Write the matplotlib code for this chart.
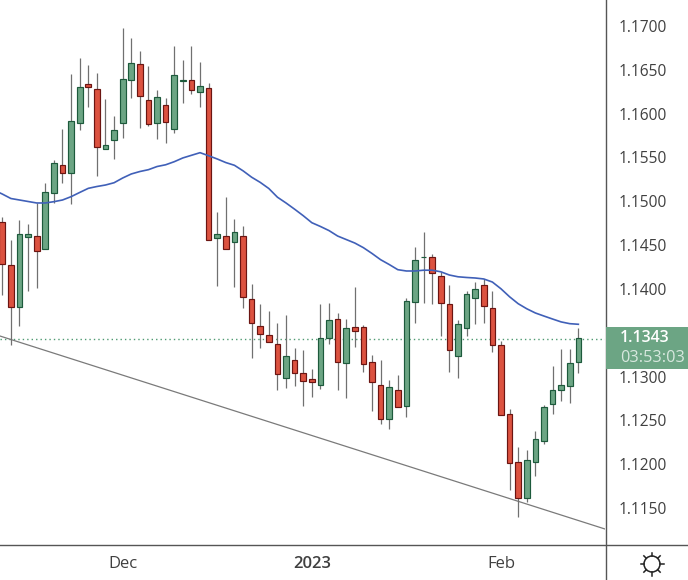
import matplotlib
matplotlib.use("Agg")
import matplotlib.pyplot as plt
from matplotlib.lines import Line2D
from matplotlib.patches import Rectangle, Circle
import numpy as np

plt.rcParams['font.family'] = ['Open Sans', 'DejaVu Sans']

# daily candles
opens = [1.14761, 1.14270, 1.13798, 1.14596, 1.14601, 1.14452, 1.15091, 1.15411, 1.15320, 1.15890,
         1.16335, 1.16278, 1.15594, 1.15696, 1.15890, 1.16381, 1.16563, 1.16153, 1.15890, 1.16096,
         1.15822, 1.16369, 1.16381, 1.16244, 1.16289, 1.14578, 1.14601, 1.14532, 1.14601, 1.13882,
         1.13574, 1.13471, 1.13369, 1.12981, 1.13186, 1.13038, 1.12969, 1.12901, 1.13437, 1.13654,
         1.13152, 1.13562, 1.13562, 1.13163, 1.12901, 1.12513, 1.12844, 1.12661, 1.13848, 1.14359,
         1.14361, 1.14144, 1.13825, 1.13232, 1.13551, 1.13893, 1.14042, 1.13779, 1.13357, 1.12570,
         1.12022, 1.11611, 1.12022, 1.12262, 1.12684, 1.12844, 1.12889, 1.13163]
highs = [1.14821, 1.14559, 1.14787, 1.14741, 1.14984, 1.15209, 1.15471, 1.15825, 1.16453, 1.16635,
         1.16555, 1.16464, 1.16167, 1.15973, 1.16978, 1.16863, 1.16715, 1.16544, 1.16270, 1.16175,
         1.16772, 1.16612, 1.16772, 1.16590, 1.16347, 1.14875, 1.15046, 1.14798, 1.14718, 1.14057,
         1.13828, 1.13748, 1.13612, 1.13703, 1.13326, 1.13303, 1.13087, 1.13828, 1.13840, 1.13726,
         1.13657, 1.14022, 1.13585, 1.13246, 1.13189, 1.12961, 1.13018, 1.13893, 1.14475, 1.14650,
         1.14399, 1.14197, 1.14045, 1.13646, 1.13977, 1.14079, 1.14110, 1.13977, 1.13406, 1.12630,
         1.12197, 1.12162, 1.12379, 1.12673, 1.13121, 1.13315, 1.13315, 1.13555]
lows = [1.13931, 1.13364, 1.13581, 1.13980, 1.14014, 1.14452, 1.14984, 1.15212, 1.14973, 1.15814,
        1.16080, 1.15292, 1.15594, 1.15486, 1.15726, 1.16182, 1.15840, 1.15863, 1.15714, 1.15669,
        1.15783, 1.16125, 1.16228, 1.16080, 1.14555, 1.14037, 1.14452, 1.14026, 1.13786, 1.13216,
        1.13330, 1.13391, 1.12850, 1.12873, 1.12896, 1.12668, 1.12771, 1.12862, 1.13375, 1.12850,
        1.12759, 1.13341, 1.13056, 1.12611, 1.12463, 1.12406, 1.12650, 1.12542, 1.13615, 1.13843,
        1.13832, 1.13467, 1.13056, 1.12987, 1.13467, 1.13604, 1.13615, 1.13284, 1.12558, 1.11709,
        1.11401, 1.11573, 1.11869, 1.12234, 1.12577, 1.12725, 1.12702, 1.13045]
closes = [1.14281, 1.13798, 1.14624, 1.14624, 1.14430, 1.15103, 1.15434, 1.15320, 1.15913, 1.16301,
          1.16308, 1.15616, 1.15639, 1.15810, 1.16392, 1.16575, 1.16198, 1.15879, 1.16187, 1.15902,
          1.16438, 1.16381, 1.16267, 1.16312, 1.14555, 1.14624, 1.14452, 1.14646, 1.13905, 1.13608,
          1.13483, 1.13391, 1.13026, 1.13232, 1.13038, 1.12946, 1.12935, 1.13437, 1.13642, 1.13163,
          1.13551, 1.13517, 1.13140, 1.12935, 1.12513, 1.12878, 1.12650, 1.13859, 1.14327, 1.14368,
          1.14179, 1.13836, 1.13300, 1.13597, 1.13939, 1.13996, 1.13802, 1.13357, 1.12558, 1.12011,
          1.11611, 1.12045, 1.12285, 1.12650, 1.12844, 1.12901, 1.13152, 1.13437]

# moving average, starts one bar left of the first visible candle
ma_start = -1
ma_values = [1.15129, 1.15083, 1.15032, 1.15015, 1.14998, 1.14981, 1.14981, 1.14996, 1.15015, 1.15053,
             1.15101, 1.15148, 1.15169, 1.15186, 1.15212, 1.15266, 1.15312, 1.15340, 1.15361, 1.15397,
             1.15417, 1.15452, 1.15495, 1.15525, 1.15555, 1.15520, 1.15483, 1.15442, 1.15411, 1.15348,
             1.15275, 1.15216, 1.15146, 1.15047, 1.14981, 1.14910, 1.14836, 1.14756, 1.14713, 1.14666,
             1.14604, 1.14564, 1.14524, 1.14471, 1.14405, 1.14334, 1.14279, 1.14220, 1.14205, 1.14205,
             1.14214, 1.14214, 1.14196, 1.14159, 1.14139, 1.14131, 1.14125, 1.14114, 1.14079, 1.14002,
             1.13911, 1.13832, 1.13774, 1.13726, 1.13691, 1.13657, 1.13624, 1.13604, 1.13597]

trend_x = [-0.27, 70.1]
trend_y = [1.13463, 1.11261]

last_price = 1.1343
countdown = "03:53:03"
# 1.1350 sits behind the price tag in the reference, so it is left out
y_ticks = [1.115, 1.12, 1.125, 1.13, 1.14, 1.145, 1.15, 1.155, 1.16, 1.165, 1.17]
x_ticks = [14, 36, 58]
x_labels = ["Dec", "2023", "Feb"]

GREEN = "#6ca584"
GREEN_EDGE = "#1d5a3c"
RED = "#dc5240"
RED_EDGE = "#6b1512"
WICK = "#707070"
AXIS = "#555555"
TEXT = "#404040"

W, H = 688, 580

fig = plt.figure(figsize=(W / 100, H / 100), dpi=100)
ax = fig.add_axes([0, 1 - 544 / H, 605 / W, 544 / H])
ax.set_xlim(-0.268, 70.1)
ax.set_ylim(1.11090, 1.17297)

x = np.arange(len(opens))
o = np.array(opens)
c = np.array(closes)
up = c >= o

ax.axhline(last_price, color="#4f9a72", lw=1.0, ls=(0, (1, 2.2)), zorder=1)
ax.plot(trend_x, trend_y, color="#7a7a7a", lw=0.9, zorder=2)
ax.vlines(x, lows, highs, color=WICK, lw=0.9, zorder=3)

ax.bar(x[up], (c - o)[up], bottom=o[up], width=0.66, color=GREEN, edgecolor=GREEN_EDGE, linewidth=0.85, zorder=4)
ax.bar(x[~up], (c - o)[~up], bottom=o[~up], width=0.66, color=RED, edgecolor=RED_EDGE, linewidth=0.85, zorder=4)

ax.plot(np.arange(len(ma_values)) + ma_start, ma_values, color="#4060b8", lw=1.2, zorder=5)

for s in ax.spines.values():
    s.set_visible(False)
ax.yaxis.tick_right()
ax.set_yticks(y_ticks)
ax.set_yticklabels(["%.4f" % v for v in y_ticks], fontsize=11.2, color=TEXT)
ax.set_xticks(x_ticks)
ax.set_xticklabels(x_labels, fontsize=12, color=TEXT)
ax.get_xticklabels()[1].set_fontweight("semibold")
ax.tick_params(axis="y", length=0, pad=10)
ax.tick_params(axis="x", length=0, pad=9)

# frame lines run past the axes
fig.add_artist(Line2D([605.5 / W, 605.5 / W], [0, 1], color=AXIS, lw=1.0))
fig.add_artist(Line2D([0, 1], [1 - 544.5 / H, 1 - 544.5 / H], color=AXIS, lw=1.0))

# last price tag
fig.add_artist(Rectangle((605.5 / W, 1 - 369 / H), 83 / W, 42 / H, transform=fig.transFigure,
                         facecolor=GREEN, edgecolor="none", zorder=6))
fig.text(620 / W, 1 - 338.5 / H, "%.4f" % last_price, color="white", fontsize=11.5,
         fontweight="semibold", va="center", zorder=7)
fig.text(620 / W, 1 - 358 / H, countdown, color="#d8e8df", fontsize=11.7, va="center", zorder=7)

# settings icon
icon = fig.add_axes([632 / W, 1 - 584 / H, 40 / W, 40 / H])
icon.set_xlim(-20, 20)
icon.set_ylim(-20, 20)
icon.axis("off")
icon.add_patch(Circle((0, 0), 8, fill=False, edgecolor="#222222", lw=1.1))
for a in np.arange(8) * np.pi / 4:
    icon.plot([8 * np.cos(a), 11.5 * np.cos(a)], [8 * np.sin(a), 11.5 * np.sin(a)], color="#222222", lw=1.1)

fig.savefig("out.png", dpi=100)
